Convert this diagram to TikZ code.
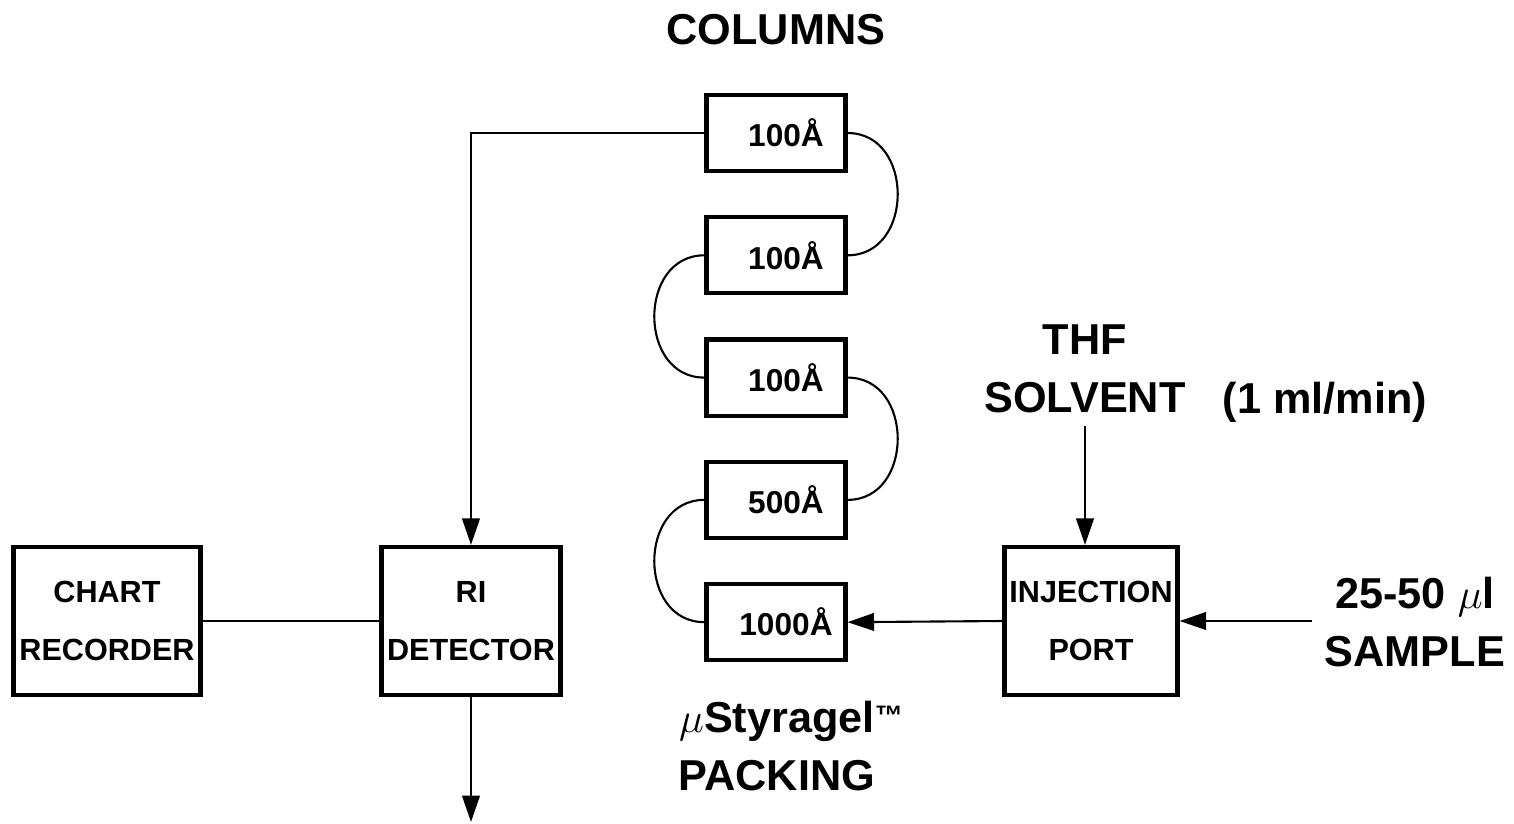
\documentclass[tikz,border=0pt]{standalone}
\usepackage{fontspec}
\setmainfont{Liberation Sans}
\usetikzlibrary{arrows.meta,positioning}

\begin{document}
\begin{tikzpicture}[x=0.01cm, y=0.01cm, node distance=4.2mm,
    unit/.style={draw, line width=1.2pt, inner xsep=1pt, minimum height=1.48cm, align=center, font=\bfseries\fontsize{8.7}{16.5}\selectfont},
    column/.style={draw, line width=1.2pt, minimum width=1.39cm, minimum height=0.76cm, font=\bfseries\fontsize{9}{10}\selectfont},
    tag/.style={align=center, font=\bfseries\fontsize{12.3}{16.5}\selectfont},
    flow/.style={line width=0.6pt, -{Triangle[length=7.5pt,width=5pt]}},
    pipe/.style={line width=0.6pt}]
        \useasboundingbox (0,0) rectangle (1514,-823);
        % column stack
        \node[tag] (title) at (776,-30) {COLUMNS};
        \node[column] (c1) at (776,-133) {\hspace*{0.2cm}100Å};
        \node[column, below=of c1] (c2) {\hspace*{0.2cm}100Å};
        \node[column, below=of c2] (c3) {\hspace*{0.2cm}100Å};
        \node[column, below=of c3] (c4) {\hspace*{0.2cm}500Å};
        \node[column, below=of c4] (c5) {\hspace*{0.2cm}1000Å};
        \node[tag] (packing) at (777,-746) {$\mu$Styragel\rlap{\raisebox{0.15em}{\fontsize{8}{8}\selectfont ™}}\\PACKING};
        % units
        \node[unit, minimum width=1.87cm] (chart) at (107,-621) {CHART\\RECORDER};
        \node[unit, minimum width=1.79cm] (ri) at (471,-621) {RI\\DETECTOR};
        \node[unit, minimum width=1.73cm] (inj) at (1091,-621) {INJECTION\\PORT};
        \node[tag] (thf) at (1085,-369) {THF\\SOLVENT};
        \node[tag, anchor=base] (rate) at (1325,-413) {(1 ml/min)};
        \node[tag] (sample) at (1415,-622) {25-50 $\mu$l\\SAMPLE};
        \coordinate (drain) at (471,-822);
        % connections
        \foreach \x/\y in {c1/c2,c3/c4}{\draw[pipe] (\x.east) to[out=0, in=0, looseness=1.4] (\y.east);}
        \foreach \x/\y in {c2/c3,c4/c5}{\draw[pipe] (\x.west) to[out=180, in=180, looseness=1.4] (\y.west);}
        \draw[flow] (c1.west) -| (ri.north);
        \draw[pipe] (chart) -- (ri);
        \draw[flow] (ri.south) -- (drain);
        \draw[flow] (thf.south) -- (thf.south |- inj.north);
        \draw[flow] (inj.west) -- (c5.east);
        \draw[flow] (sample.west |- inj.east) -- (inj.east);
      \end{tikzpicture}
\end{document}
